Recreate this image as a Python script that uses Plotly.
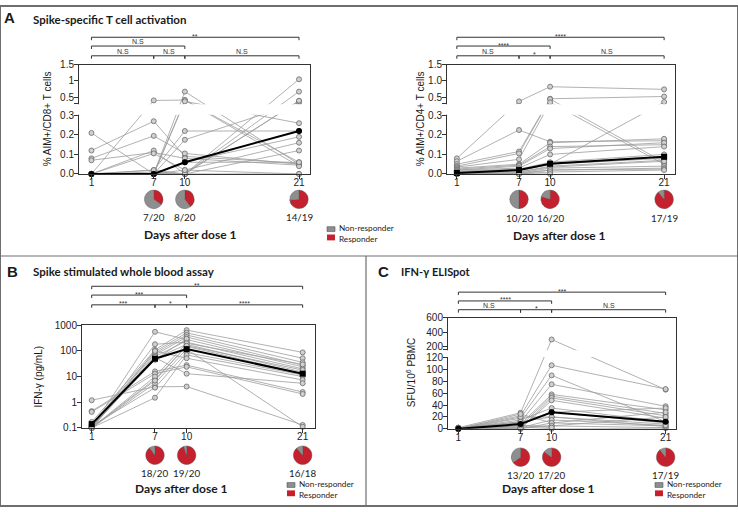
import plotly.graph_objects as go

W, H = 738, 512
days = [1, 7, 10, 21]
pie_days = [7, 10, 21]

# % AIM+/CD8+ T cells, one entry per participant
cd8_day1 = [0.21, 0.12, 0.08, 0.07, 0, 0, 0, 0, 0, 0, 0, 0, 0, 0, 0, 0, 0, 0, 0, 0]
cd8_day7 = [0.0, 0.27, 0.195, 0.11, 0.4, 0.12, 0.105, 0.0, 0.0, 0.0, 0.02, 0.0, 0.01, 0.0, 0.0, 0.02, 0.0, 0.0, 0.0, 0.0]
cd8_day10 = [0.06, 0.09, 0.105, 0.08, 0.41, 0.0, 0.02, 0.67, 0.41, 0.37, 0.22, 0.175, 0.0, 0.0, 0.0, 0.0, 0.0, 0.06, 0.0, 0.02]
cd8_day21 = [0.19, 0.055, 0.05, 0.045, 0.06, 0.12, 0.16, 0.05, 0.04, 0.26, 0.22, 0.33, 1.05, 0.67, 0.38, 0.0, 0.39, 0.06, None, 0.0]
cd8_median = [0.0, 0.0, 0.06, 0.22]
cd8_resp = [7, 8, 14]
cd8_n = [20, 20, 19]

# % AIM+/CD4+ T cells
cd4_day1 = [0.08, 0.065, 0.05, 0.04, 0.035, 0.03, 0.025, 0.02, 0.02, 0.015, 0.01, 0.01, 0.005, 0.005, 0.005, 0.0, 0.0, 0.0, 0.0, 0.0]
cd4_day7 = [0.37, 0.225, 0.115, 0.105, 0.075, 0.05, 0.045, 0.04, 0.03, 0.025, 0.02, 0.02, 0.015, 0.01, 0.01, 0.005, 0.005, 0.0, 0.0, 0.0]
cd4_day10 = [0.82, 0.165, 0.45, 0.44, 0.34, 0.16, 0.14, 0.13, 0.1, 0.06, 0.055, 0.05, 0.05, 0.04, 0.035, 0.03, 0.02, 0.02, 0.01, 0.0]
cd4_day21 = [0.74, 0.17, 0.52, 0.06, 0.05, 0.18, 0.15, 0.16, 0.14, 0.1, 0.088, 0.35, 0.08, 0.07, 0.065, 0.04, 0.03, 0.025, 0.02, None]
cd4_median = [0.005, 0.02, 0.052, 0.088]
cd4_resp = [10, 16, 17]
cd4_n = [20, 20, 19]

# IFN-gamma whole blood assay (pg/mL)
ifn_day1 = [1.2, 0.45, 0.42, 0.17, 0.14, 0.12, 0.1, 0.1, 0.1, 0.11, 0.1, 0.1, 0.12, 0.1, 0.1, 0.14, 0.1, 0.11, 0.1, 0.1]
ifn_day7 = [4.0, 16, 13, 110, 94, 81, 70, 560, 183, 50, 8, 5.5, 3.7, 1.5, 100, 55, 60, 45, 10, 7]
ifn_day10 = [4.1, 28, 24, 650, 510, 420, 350, 280, 220, 180, 150, 118, 87, 70, 52, 13, 250, 300, 200, 160]
ifn_day21 = [0.13, 2.5, 2.1, 88, 52, 36, 28, 24, 20, 15, 13, 0.11, 11.5, 10, 7.4, 5.5, None, None, 30, 18]
ifn_median = [0.14, 50, 118, 13]
ifn_resp = [18, 19, 16]
ifn_n = [20, 20, 18]

# IFN-gamma ELISpot (SFU/10^6 PBMC)
eli_day1 = [2, 1, 0, 1, 0, 2, 1, 0, 0, 1, 0, 0, 2, 1, 0, 0, 1, 0, 0, 0]
eli_day7 = [27, 22, 18, 12, 8, 5, 1, 0, 15, 10, 20, 25, 5, 3, 8, 12, 2, 0, 1, 6]
eli_day10 = [300, 107, 90, 75, 58, 55, 52, 48, 35, 28, 20, 10, 5, 0, 28, 20, 15, 10, 5, 2]
eli_day21 = [66, 67, 12, 38, 32, 26, 22, 18, 12, 10, 8, 5, 2, 1, 35, 4, 6, 28, 20, None]
eli_median = [0, 8, 28, 12]
eli_resp = [13, 17, 17]
eli_n = [20, 20, 19]

# significance brackets: (row, from day, to day, label)
cd8_stats = [(0, 1, 21, "**"), (1, 1, 10, "N.S"), (2, 1, 7, "N.S"), (2, 7, 10, "N.S"), (2, 10, 21, "N.S")]
cd4_stats = [(0, 1, 21, "****"), (1, 1, 10, "****"), (2, 1, 7, "N.S"), (2, 7, 10, "*"), (2, 10, 21, "N.S")]
ifn_stats = [(0, 1, 21, "**"), (1, 1, 10, "***"), (2, 1, 7, "***"), (2, 7, 10, "*"), (2, 10, 21, "****")]
eli_stats = [(0, 1, 21, "***"), (1, 1, 10, "****"), (2, 1, 7, "N.S"), (2, 7, 10, "*"), (2, 10, 21, "N.S")]

RED = "#c5202e"
GREY = "#8e8e8e"
AX = "#333333"
TICKFONT = dict(family="Liberation Sans, Arial", size=10, color="#222")
LATO = "Lato, Open Sans"

# broken y axes: lower part, gap, upper part (axis units are pixels tall)
AIM_BRK = dict(lo=0.3, lo_h=60, gap=12, hi0=0.3, hi1=1.5, hi_h=40)
ELI_BRK = dict(lo=120, lo_h=73, gap=8, hi0=160, hi1=600, hi_h=33)


def to_axis(v, b, upper=False):
    if v is None:
        return None
    if v <= b["lo"] and not upper:
        return v / b["lo"] * b["lo_h"]
    return b["lo_h"] + b["gap"] + (v - b["hi0"]) / (b["hi1"] - b["hi0"]) * b["hi_h"]


def py(p):
    return 1 - p / H


fig = go.Figure()
layout = dict(width=W, height=H, margin=dict(l=0, r=0, t=0, b=0),
              paper_bgcolor="white", plot_bgcolor="white", showlegend=False)
shapes = []
notes = []


def note(x, y, text, size, family="Liberation Sans, Arial", bold=False, xanchor="center",
         yanchor="middle", angle=0, xref="paper", color="#1a1a1a", align="center"):
    if bold:
        text = "<b>" + text + "</b>"
    notes.append(dict(x=x if xref != "paper" else x / W, y=py(y), xref=xref, yref="paper",
                      text=text, showarrow=False, xanchor=xanchor, yanchor=yanchor,
                      textangle=angle, align=align, borderpad=0,
                      font=dict(family=family, size=size, color=color)))


def add_panel(n, dom_x, dom_y, xr, series, median, symbol, yax, brk, resp, tot, pie_y,
              frac_y, stats, rows, ytitle, ytitle_x, xlab, legend_xy):
    xa = "x" if n == 1 else "x%d" % n
    ya = "y" if n == 1 else "y%d" % n
    conv = (lambda v: to_axis(v, brk)) if brk else (lambda v: v)

    xs, ys = [], []
    for subj in zip(*series):
        for d, v in zip(days, subj):
            xs.append(d)
            ys.append(conv(v))
        xs.append(None)
        ys.append(None)
    fig.add_trace(go.Scatter(x=xs, y=ys, xaxis=xa, yaxis=ya, mode="lines+markers",
                             line=dict(color="#9d9d9d", width=0.8),
                             marker=dict(size=5, color="#d0d0d0", line=dict(color="#6a6a6a", width=0.8)),
                             cliponaxis=False, hoverinfo="skip"))
    fig.add_trace(go.Scatter(x=days, y=[conv(v) for v in median], xaxis=xa, yaxis=ya,
                             mode="lines+markers", line=dict(color="black", width=2),
                             marker=dict(symbol=symbol, size=6, color="black"),
                             cliponaxis=False, hoverinfo="skip"))

    key = "" if n == 1 else str(n)
    layout["xaxis" + key] = dict(domain=[dom_x[0] / W, dom_x[1] / W], range=xr, anchor=ya,
                                 tickvals=days, ticktext=[str(d) for d in days],
                                 showline=True, linecolor=AX, linewidth=1, mirror=True,
                                 ticks="outside", ticklen=4, tickcolor=AX, showgrid=False,
                                 zeroline=False, tickfont=TICKFONT, fixedrange=True,
                                 ticklabelstandoff=-5)
    ya_cfg = dict(domain=[py(dom_y[1]), py(dom_y[0])], anchor=xa, showline=True, linecolor=AX,
                  linewidth=1, mirror=True, ticks="outside", ticklen=4, tickcolor=AX,
                  showgrid=False, zeroline=False, tickfont=TICKFONT, fixedrange=True,
                  ticklabelstandoff=-2)
    ya_cfg.update(yax)
    layout["yaxis" + key] = ya_cfg

    if brk:
        # unlabelled tick at the foot of the upper segment, then blank out the gap
        ya_cfg["minor"] = dict(tickmode="array", tickvals=[brk["lo_h"] + brk["gap"]],
                               ticks="outside", ticklen=4, tickcolor=AX, showgrid=False)
        shapes.append(dict(type="rect", xref="paper", yref=ya, layer="above",
                           x0=(dom_x[0] - 3) / W, x1=(dom_x[1] - 1) / W,
                           y0=brk["lo_h"] + 0.6, y1=brk["lo_h"] + brk["gap"] - 0.6,
                           fillcolor="white", line=dict(width=0)))

    # pies below the x axis
    def xpix(d):
        return dom_x[0] + (d - xr[0]) / (xr[1] - xr[0]) * (dom_x[1] - dom_x[0])

    for d, r, t in zip(pie_days, resp, tot):
        cx = xpix(d)
        fig.add_trace(go.Pie(values=[r, t - r], marker=dict(colors=[RED, GREY], line=dict(color="#555", width=0.4)),
                             sort=False, direction="clockwise", rotation=0, textinfo="none",
                             hoverinfo="skip", showlegend=False,
                             domain=dict(x=[(cx - 9.5) / W, (cx + 9.5) / W],
                                         y=[py(pie_y + 9.5), py(pie_y - 9.5)])))
        note(cx, frac_y, "%d/%d" % (r, t), 9.8, family=LATO)

    # significance brackets
    for row, d0, d1, lab in stats:
        yb = rows[row]
        shapes.append(dict(type="path", xref=xa, yref="paper", layer="above",
                           path="M %s,%s L %s,%s L %s,%s L %s,%s" % (d0, py(yb + 3), d0, py(yb), d1, py(yb), d1, py(yb + 3)),
                           line=dict(color=AX, width=1)))
        # asterisks sit high in their line box, so they need less lift than N.S
        lift = 1.0 if lab.startswith("*") else 4.5
        note((d0 + d1) / 2, yb - lift, lab, 7, xref=xa, color="#333")

    note(ytitle_x, (dom_y[0] + dom_y[1]) / 2, ytitle, 10, angle=-90)
    note(xlab[0], xlab[1], "Days after dose 1", 12, family=LATO, bold=True)

    if legend_xy:
        lx, ly = legend_xy
        shapes.append(dict(type="rect", xref="paper", yref="paper", x0=lx / W, x1=(lx + 8) / W,
                           y0=py(ly + 5), y1=py(ly), fillcolor=GREY, line=dict(color="#555", width=0.6)))
        shapes.append(dict(type="rect", xref="paper", yref="paper", x0=lx / W, x1=(lx + 8) / W,
                           y0=py(ly + 14), y1=py(ly + 8), fillcolor=RED, line=dict(width=0)))
        note(lx + 11, ly + 7, "Non-responder<br>Responder", 8.2, family=LATO, xanchor="left", align="left")


aim_lo = [0, 0.1, 0.2, 0.3]
aim_hi = [0.5, 1.0, 1.5]
aim_tv = [to_axis(v, AIM_BRK) for v in aim_lo] + [to_axis(v, AIM_BRK, upper=True) for v in aim_hi]
eli_lo = [0, 20, 40, 60, 80, 100, 120]
eli_hi = [200, 400, 600]
eli_tv = [to_axis(v, ELI_BRK) for v in eli_lo] + [to_axis(v, ELI_BRK, upper=True) for v in eli_hi]

aim_total = AIM_BRK["lo_h"] + AIM_BRK["gap"] + AIM_BRK["hi_h"]
eli_total = ELI_BRK["lo_h"] + ELI_BRK["gap"] + ELI_BRK["hi_h"]

top_rows = [32, 41, 51]

add_panel(1, (79, 310), (60, 172), [-0.2, 22.06],
          [cd8_day1, cd8_day7, cd8_day10, cd8_day21], cd8_median, "circle",
          dict(range=[0, aim_total], tickvals=aim_tv,
               ticktext=["0.0", "0.1", "0.2", "0.3", "0.5", "1", "1.5"]),
          AIM_BRK, cd8_resp, cd8_n, 198, 216, cd8_stats, top_rows,
          "% AIM+/CD8+ T cells", 47, (190, 234), (327, 226))

add_panel(2, (447, 675), (60, 172), [0.05, 22.05],
          [cd4_day1, cd4_day7, cd4_day10, cd4_day21], cd4_median, "square",
          dict(range=[0, aim_total], tickvals=aim_tv,
               ticktext=["0.0", "0.1", "0.2", "0.3", "0.5", "1.0", "1.5"]),
          AIM_BRK, cd4_resp, cd4_n, 198, 217, cd4_stats, top_rows,
          "% AIM+/CD4+ T cells", 420, (559, 235), None)

add_panel(3, (82, 315), (327, 432), [0.08, 22.17],
          [ifn_day1, ifn_day7, ifn_day10, ifn_day21], ifn_median, "square",
          dict(type="log", range=[-1, 3], tickvals=[0.1, 1, 10, 100, 1000],
               ticktext=["0.1", "1", "10", "100", "1000"]),
          None, ifn_resp, ifn_n, 460, 478, ifn_stats, [287, 296, 306],
          "IFN-γ (pg/mL)", 39, (181, 494), (287, 488))

add_panel(4, (448, 676), (319, 433), [0.0, 22.0],
          [eli_day1, eli_day7, eli_day10, eli_day21], eli_median, "circle",
          dict(range=[0, eli_total], tickvals=eli_tv,
               ticktext=[str(v) for v in eli_lo] + [str(v) for v in eli_hi]),
          ELI_BRK, eli_resp, eli_n, 462, 480.5, eli_stats, [293, 302, 311],
          "SFU/10<sup>6</sup> PBMC", 411, (548, 494.5), (655, 488))

# panel letters and titles
note(9, 12, "A", 15, bold=True)
note(32, 14, "Spike-specific T cell activation", 11.5, family=LATO, bold=True, xanchor="left")
note(12, 272, "B", 15, bold=True)
note(32, 272, "Spike stimulated whole blood assay", 11.5, family=LATO, bold=True, xanchor="left")
note(383, 272, "C", 15, bold=True)
note(400, 272, "IFN-γ ELISpot", 11, family=LATO, bold=True, xanchor="left")

# panel frames
shapes.append(dict(type="rect", xref="paper", yref="paper", x0=0, x1=1, y0=0, y1=1,
                   line=dict(color="#6e6e6e", width=2)))
shapes.append(dict(type="line", xref="paper", yref="paper", x0=0, x1=1, y0=py(256), y1=py(256),
                   line=dict(color="#6e6e6e", width=1.2)))
shapes.append(dict(type="line", xref="paper", yref="paper", x0=366 / W, x1=366 / W, y0=py(256), y1=0,
                   line=dict(color="#6e6e6e", width=1.2)))

layout["shapes"] = shapes
layout["annotations"] = notes
fig.update_layout(**layout)
fig.write_html("out.html", config={"displayModeBar": False},
               post_script="document.body.style.margin='0px';")
